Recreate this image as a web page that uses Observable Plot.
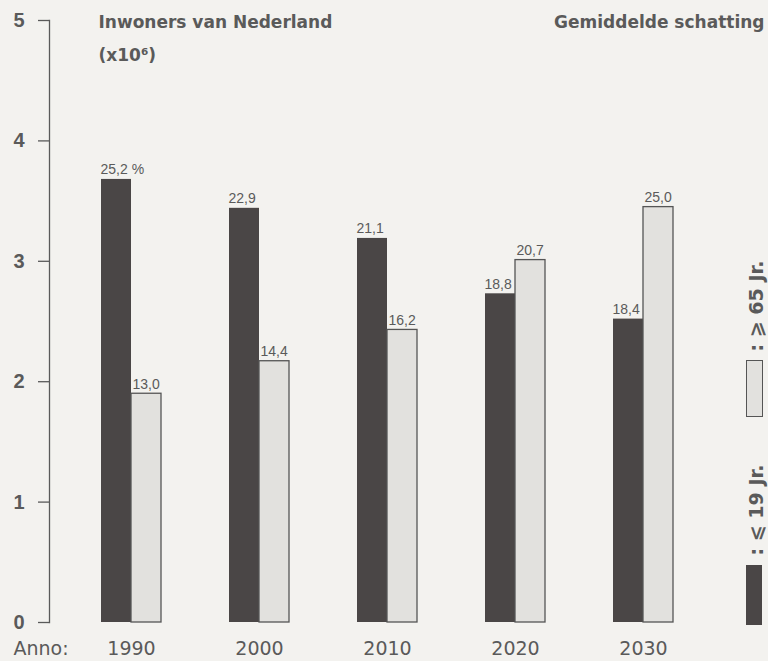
<!DOCTYPE html>
<html>
<head>
<meta charset="utf-8">
<script src="https://cdn.jsdelivr.net/npm/d3@7"></script>
<script src="https://cdn.jsdelivr.net/npm/@observablehq/plot@0.6"></script>
<style>
  html, body { margin: 0; padding: 0; background: #f3f2ef; }
  #wrap { position: relative; width: 768px; height: 661px; overflow: hidden; font-family: "DejaVu Sans", sans-serif; }
  .lbox { position: absolute; box-sizing: border-box; }
  .ltext { position: absolute; white-space: nowrap; transform: translate(-50%, -50%) rotate(-90deg);
           font-size: 19px; font-weight: bold; color: #5a5a5a; font-family: "DejaVu Sans", sans-serif; }
</style>
</head>
<body>
<div id="wrap"></div>
<script>
// Data
const years = ["1990", "2000", "2010", "2020", "2030"];
const young = [3.68, 3.44, 3.19, 2.73, 2.52];   // inwoners <= 19 jr (x10^6)
const old = [1.90, 2.17, 2.43, 3.01, 3.45];     // inwoners >= 65 jr (x10^6)
const youngPct = [25.2, 22.9, 21.1, 18.8, 18.4];
const oldPct = [13.0, 14.4, 16.2, 20.7, 25.0];
const yTicks = [0, 1, 2, 3, 4, 5];

const fmt = v => v.toFixed(1).replace(".", ",");
const data = years.map((y, i) => ({
  year: y, young: young[i], old: old[i],
  youngLabel: fmt(youngPct[i]) + (i === 0 ? " %" : ""),
  oldLabel: fmt(oldPct[i])
}));

const ink = "#5a5a5a";
const darkFill = "#4a4646";
const lightFill = "#e2e1de";
const dv = "DejaVu Sans, sans-serif";

const chart = Plot.plot({
  width: 768,
  height: 661,
  marginTop: 20,
  marginBottom: 39,
  marginLeft: 49,
  marginRight: 0,
  style: { background: "transparent", fontFamily: "Liberation Sans, Arial, sans-serif", color: ink },
  x: { type: "band", domain: years, range: [31.5, 742.5], padding: 0.533, label: null },
  y: { domain: [0, 5], label: null },
  marks: [
    Plot.frame({ anchor: "left", stroke: ink, strokeWidth: 1.3 }),
    Plot.axisY({ ticks: yTicks, tickFormat: "d", tickSize: 11, tickPadding: 14, fontSize: 20, fontWeight: "bold", fontFamily: "Liberation Sans, Arial, sans-serif", stroke: ink, fill: ink, strokeWidth: 1.3, label: null }),
    Plot.axisX({ tickSize: 0, tickPadding: 19, fontSize: 19, fontFamily: dv, fill: ink, label: null }),
    Plot.barY(data, { x: "year", y: "young", fill: darkFill, insetRight: 30 }),
    Plot.barY(data, { x: "year", y: "old", fill: lightFill, stroke: "#555", strokeWidth: 1.3, insetLeft: 30 }),
    Plot.text(data, { x: "year", y: "young", text: "youngLabel", textAnchor: "start", lineAnchor: "bottom", dx: -31, dy: -5, fontSize: 14, fill: ink }),
    Plot.text(data, { x: "year", y: "old", text: "oldLabel", textAnchor: "start", lineAnchor: "bottom", dx: 1, dy: -5, fontSize: 14, fill: ink }),
    Plot.text(["Inwoners van Nederland"], { frameAnchor: "top-left", textAnchor: "start", lineAnchor: "middle", dx: 49, dy: 2, fontSize: 17, fontFamily: dv, fontWeight: "bold", fill: ink }),
    Plot.text(["(x10⁶)"], { frameAnchor: "top-left", textAnchor: "start", lineAnchor: "middle", dx: 49, dy: 35, fontSize: 17, fontFamily: dv, fontWeight: "bold", fill: ink }),
    Plot.text(["Gemiddelde schatting"], { frameAnchor: "top-right", textAnchor: "end", lineAnchor: "middle", dx: -4, dy: 2, fontSize: 17, fontFamily: dv, fontWeight: "bold", fill: ink }),
    Plot.text(["Anno:"], { frameAnchor: "bottom-left", textAnchor: "start", lineAnchor: "top", dx: -36, dy: 19, fontSize: 19, fontFamily: dv, fill: ink })
  ]
});

const wrap = document.getElementById("wrap");
wrap.appendChild(chart);

// Legend (rotated, at the right edge)
function addBox(left, top, w, h, fill, border) {
  const d = document.createElement("div");
  d.className = "lbox";
  Object.assign(d.style, { left: left + "px", top: top + "px", width: w + "px", height: h + "px", background: fill, border: border });
  wrap.appendChild(d);
}
function addText(cx, cy, txt) {
  const d = document.createElement("div");
  d.className = "ltext";
  Object.assign(d.style, { left: cx + "px", top: cy + "px" });
  d.textContent = txt;
  wrap.appendChild(d);
}
addBox(746, 360, 17, 57, lightFill, "1.3px solid #555");
addText(756, 306, ": ⩾ 65 Jr.");
addBox(746, 565, 16, 60, darkFill, "none");
addText(756, 510, ": ⩽ 19 Jr.");
</script>
</body>
</html>
